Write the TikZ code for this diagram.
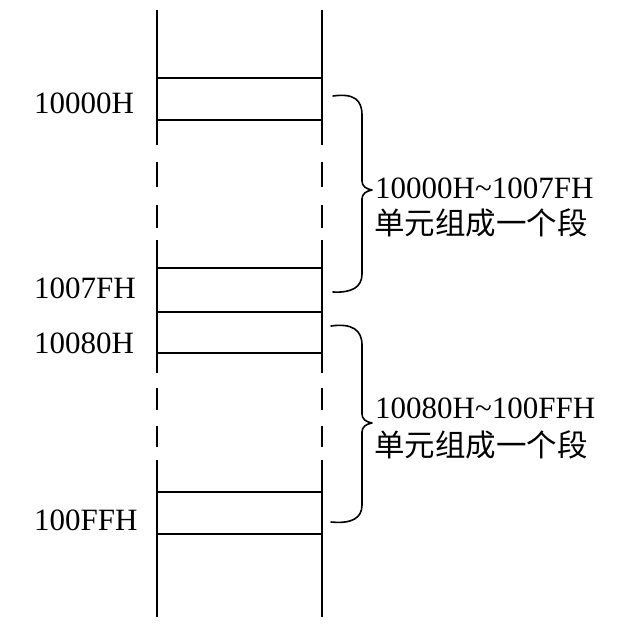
\documentclass[tikz,border=0pt]{standalone}
\usepackage{fontspec}
\setmainfont{Liberation Serif}
\newfontfamily\cjk{Noto Sans CJK SC}
\begin{document}
\begin{tikzpicture}[x=1pt,y=-1pt,
  wall/.style={line width=1.8pt,line cap=butt},
  cell/.style={line width=1.8pt},
  bracepath/.style={line width=1.6pt,line cap=round,line join=round},
  addr/.style={anchor=base west,inner sep=0pt,font=\fontsize{31}{36}\selectfont},
  note/.style={anchor=base west,inner sep=0pt,font=\fontsize{31}{36}\selectfont},
  notecjk/.style={anchor=base west,inner sep=0pt,font=\fontsize{30.5}{36}\selectfont\cjk}]
\useasboundingbox (0,0) rectangle (622,632);
\fill[white] (0,0) rectangle (622,632);
% vertical walls with dashed breaks
\foreach \xx in {157,322}{
  \draw[wall] (\xx,10) -- (\xx,145);
  \draw[wall] (\xx,162) -- (\xx,187);
  \draw[wall] (\xx,205) -- (\xx,228);
  \draw[wall] (\xx,240) -- (\xx,373);
  \draw[wall] (\xx,388) -- (\xx,410);
  \draw[wall] (\xx,426) -- (\xx,447);
  \draw[wall] (\xx,460) -- (\xx,617);
}
% cell boundaries
\foreach \yy in {78,120,268,312,353,492,534}{
  \draw[cell] (157,\yy) -- (322,\yy);
}
% address labels
\node[addr] (a1) at (34,113) {10000H};
\node[addr] (a2) at (34,298) {1007FH};
\node[addr] (a3) at (34,353) {10080H};
\node[addr] (a4) at (34,530) {100FFH};
% braces
\draw[bracepath] (333,96) .. controls (354,93) and (362,100) .. (362,115)
  -- (362,181) .. controls (362,186) and (366,189) .. (372,190)
  .. controls (366,191) and (362,194) .. (362,199)
  -- (362,274) .. controls (362,287) and (352,293) .. (333,292);
\draw[bracepath] (331,326) .. controls (352,323) and (362,330) .. (362,345)
  -- (362,414) .. controls (362,419) and (366,422) .. (372,423)
  .. controls (366,424) and (362,427) .. (362,432)
  -- (362,505) .. controls (362,518) and (352,524) .. (331,522);
% notes
\node[note] (n1) at (375,198) {10000H\raisebox{0pt}{\char`\~}1007FH};
\node[notecjk] (c1) at (374,234) {单元组成一个段};
\node[note] (n2) at (375,418) {10080H\char`\~100FFH};
\node[notecjk] (c2) at (374,456) {单元组成一个段};
\end{tikzpicture}
\end{document}
